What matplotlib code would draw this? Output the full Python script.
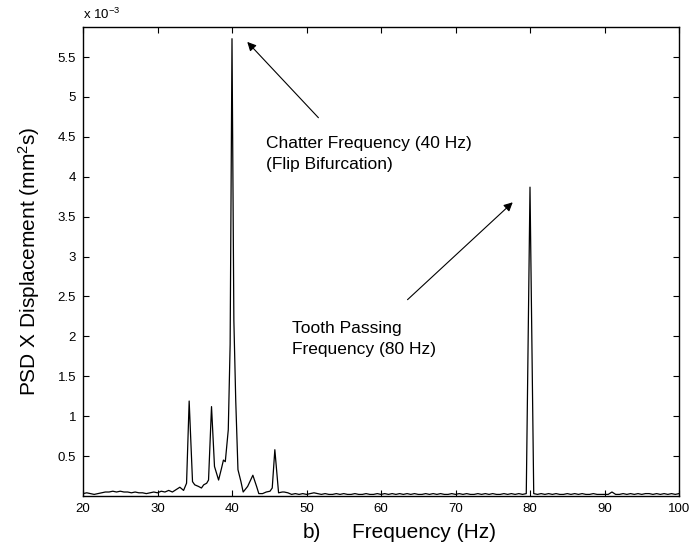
import matplotlib
matplotlib.use("Agg")
import matplotlib.pyplot as plt

plt.rcParams['font.family'] = ['Liberation Sans', 'DejaVu Sans']
plt.rcParams['mathtext.fontset'] = 'custom'
plt.rcParams['mathtext.rm'] = 'Liberation Sans'
plt.rcParams['mathtext.it'] = 'Liberation Sans'

# Frequency (Hz) and PSD (x 1e-3 mm^2 s)
freq = [20.0, 20.5, 21.0, 21.5, 22.0, 22.5, 23.0, 23.5, 24.0, 24.5, 25.0, 25.5,
        26.0, 26.5, 27.0, 27.5, 28.0, 28.5, 29.0, 29.5, 30.0, 30.5, 31.0, 31.5,
        32.0, 32.5, 33.0, 33.5, 33.9, 34.25, 34.7, 35.0, 35.5, 35.9, 36.2, 36.6,
        36.85, 37.25, 37.65, 38.2, 38.6, 38.85, 39.1, 39.5, 39.75, 40.0, 40.25,
        40.5, 40.8, 41.2, 41.5, 42.1, 42.8, 43.3, 43.6, 44.1, 44.6, 45.1, 45.4,
        45.75, 46.25, 46.75, 47.0, 47.5, 48.0, 48.5, 49.0, 49.5, 50.0, 50.5,
        51.0, 51.5, 52.0, 52.5, 53.0, 53.5, 54.0, 54.5, 55.0, 55.5, 56.0, 56.5,
        57.0, 57.5, 58.0, 58.5, 59.0, 59.5, 60.0, 60.5, 61.0, 61.5, 62.0, 62.5,
        63.0, 63.5, 64.0, 64.5, 65.0, 65.5, 66.0, 66.5, 67.0, 67.5, 68.0, 68.5,
        69.0, 69.5, 70.0, 70.5, 71.0, 71.5, 72.0, 72.5, 73.0, 73.5, 74.0, 74.5,
        75.0, 75.5, 76.0, 76.5, 77.0, 77.5, 78.0, 78.5, 79.0, 79.5, 80.0, 80.5,
        81.0, 81.5, 82.0, 82.5, 83.0, 83.5, 84.0, 84.5, 85.0, 85.5, 86.0, 86.5,
        87.0, 87.5, 88.0, 88.5, 89.0, 89.5, 90.0, 90.5, 91.0, 91.5, 92.0, 92.5,
        93.0, 93.5, 94.0, 94.5, 95.0, 95.5, 96.0, 96.5, 97.0, 97.5, 98.0, 98.5,
        99.0, 99.5, 100.0]
psd = [0.03, 0.04, 0.03, 0.02, 0.03, 0.04, 0.05, 0.05, 0.06, 0.05, 0.06, 0.05,
       0.05, 0.04, 0.05, 0.04, 0.04, 0.03, 0.04, 0.05, 0.04, 0.06, 0.05, 0.07,
       0.05, 0.08, 0.11, 0.07, 0.16, 1.19, 0.18, 0.14, 0.12, 0.10, 0.14, 0.16,
       0.20, 1.12, 0.37, 0.20, 0.35, 0.45, 0.43, 0.83, 1.90, 5.73, 2.20,
       1.20, 0.33, 0.18, 0.05, 0.12, 0.26, 0.12, 0.03, 0.03, 0.05, 0.06, 0.10,
       0.58, 0.04, 0.05, 0.05, 0.04, 0.02, 0.03, 0.02, 0.03, 0.02, 0.03,
       0.04, 0.03, 0.02, 0.03, 0.02, 0.02, 0.03, 0.02, 0.03, 0.02, 0.02, 0.03,
       0.02, 0.02, 0.03, 0.02, 0.02, 0.03, 0.02, 0.03, 0.02, 0.03, 0.02, 0.03,
       0.02, 0.03, 0.02, 0.03, 0.02, 0.02, 0.03, 0.02, 0.03, 0.02, 0.03, 0.02,
       0.02, 0.03, 0.02, 0.03, 0.02, 0.03, 0.02, 0.02, 0.03, 0.02, 0.03, 0.02,
       0.03, 0.02, 0.02, 0.03, 0.02, 0.03, 0.02, 0.03, 0.02, 0.03, 3.87, 0.03,
       0.02, 0.03, 0.02, 0.03, 0.02, 0.03, 0.02, 0.02, 0.03, 0.02, 0.03, 0.02,
       0.03, 0.02, 0.02, 0.03, 0.02, 0.02, 0.02, 0.02, 0.05, 0.02, 0.02, 0.03,
       0.02, 0.03, 0.02, 0.03, 0.02, 0.03, 0.03, 0.02, 0.03, 0.02, 0.03, 0.02,
       0.03, 0.02, 0.03]

xticks = [20, 30, 40, 50, 60, 70, 80, 90, 100]
yticks = [0.5, 1, 1.5, 2, 2.5, 3, 3.5, 4, 4.5, 5, 5.5]
ytick_labels = ['0.5', '1', '1.5', '2', '2.5', '3', '3.5', '4', '4.5', '5', '5.5']

W, H = 689, 548
fig = plt.figure(figsize=(W / 100, H / 100), dpi=100)
ax = fig.add_axes([83 / W, 1 - 496 / H, (679 - 83) / W, (496 - 27.3) / H])

ax.plot(freq, psd, color='black', lw=0.9)
ax.set_xlim(20, 100)
ax.set_ylim(0, 5.873)
ax.set_xticks(xticks)
ax.set_xticklabels([str(t) for t in xticks])
ax.set_yticks(yticks)
ax.set_yticklabels(ytick_labels)
ax.tick_params(direction='in', length=4, width=0.8, labelsize=9.5,
               top=True, right=True, pad=5)
for s in ax.spines.values():
    s.set_linewidth(1.0)

ax.text(0, 1.012, r'x 10$^{-3}$', transform=ax.transAxes, fontsize=9.5,
        ha='left', va='bottom')

ax.set_ylabel(r'PSD X Displacement (mm$^2$s)', fontsize=15, labelpad=11)

fig.text(302.5 / W, 1 - 532 / H, 'b)', fontsize=15, ha='left', va='center')
fig.text(351.5 / W, 1 - 532 / H, 'Frequency (Hz)', fontsize=15,
         ha='left', va='center')

arrow = dict(arrowstyle='-|>', color='black', lw=0.8, mutation_scale=13,
             shrinkA=0, shrinkB=0)
ax.annotate('', xy=(42.05, 5.69), xytext=(51.6, 4.74), arrowprops=arrow)
ax.annotate('', xy=(77.68, 3.68), xytext=(63.56, 2.46), arrowprops=arrow)

ax.text(44.6, 4.28, 'Chatter Frequency (40 Hz)\n(Flip Bifurcation)',
        fontsize=12.5, ha='left', va='center', linespacing=1.5)
ax.text(48.1, 1.97, 'Tooth Passing\nFrequency (80 Hz)',
        fontsize=12.5, ha='left', va='center', linespacing=1.5)

fig.savefig('out.png', dpi=100)
